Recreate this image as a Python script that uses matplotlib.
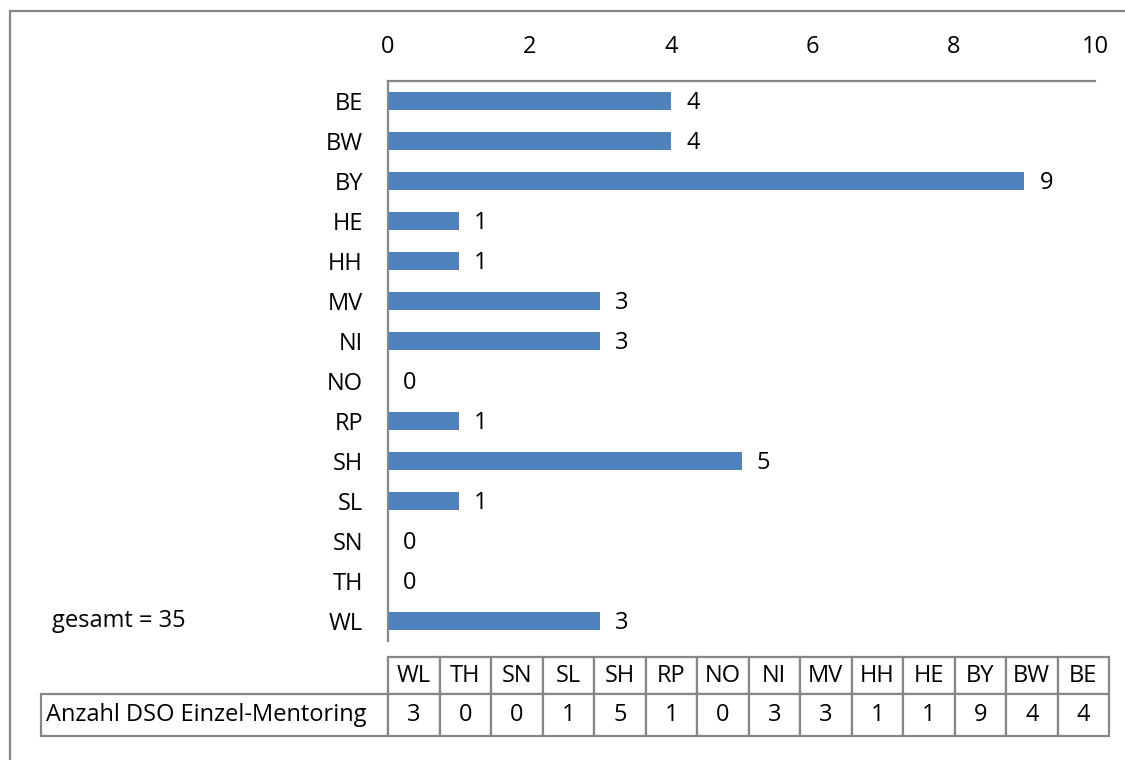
import matplotlib.pyplot as plt
from matplotlib.patches import Rectangle
from matplotlib.transforms import blended_transform_factory

plt.rcParams['font.family'] = ['Open Sans', 'DejaVu Sans']

# data
states = ['BE', 'BW', 'BY', 'HE', 'HH', 'MV', 'NI', 'NO', 'RP', 'SH', 'SL', 'SN', 'TH', 'WL']
counts = [4, 4, 9, 1, 1, 3, 3, 0, 1, 5, 1, 0, 0, 3]
row_label = 'Anzahl DSO Einzel-Mentoring'
total_text = 'gesamt = 35'

bar_color = '#4F81BD'
grey = '#868686'
fs = 17

fig = plt.figure(figsize=(11.25, 7.6), dpi=100)
W, H = 1125, 760
AW, AH = 707, 560  # axes size in pixels

# axes placement in pixels: x 388..1095, y 81..641
ax = fig.add_axes([388 / W, 1 - 641 / H, AW / W, AH / H])

ypos = list(range(len(states)))
ax.barh(ypos, counts, height=0.44, color=bar_color)
ax.set_xlim(0, 10)
ax.set_ylim(len(states) - 0.5, -0.5)
ax.set_yticks(ypos)
ax.set_yticklabels(states)
ax.set_xticks(range(0, 11, 2))

ax.xaxis.tick_top()
ax.tick_params(axis='x', length=0, pad=16, labelsize=fs)
ax.tick_params(axis='y', length=0, pad=18, labelsize=fs)
for s in ['right', 'bottom']:
    ax.spines[s].set_visible(False)
for s in ['top', 'left']:
    ax.spines[s].set_color(grey)
    ax.spines[s].set_linewidth(1.6)

for y, v in zip(ypos, counts):
    ax.annotate(str(v), (v, y), xytext=(11, -1.5), textcoords='offset points',
                ha='left', va='center', fontsize=fs)

tr = blended_transform_factory(ax.transAxes, ax.transData)
ax.text((52 - 388) / AW, ypos[-1], total_text, transform=tr,
        ha='left', va='center', fontsize=fs)

# data table underneath: label column first, then states in reverse order
col_labels = [''] + states[::-1]
cell_vals = [[row_label] + [str(v) for v in counts[::-1]]]
col_w = 51.5 / AW
lab_w = 347 / AW
hdr_h = 37 / AH
row_h = 42 / AH
top = (641 - 657) / AH
left = (41 - 388) / AW
tbl = ax.table(cellText=cell_vals, colLabels=col_labels,
               colWidths=[lab_w] + [col_w] * len(states), cellLoc='center',
               bbox=[left, top - hdr_h - row_h, lab_w + col_w * len(states),
                     hdr_h + row_h])
tbl.auto_set_font_size(False)
tbl.set_fontsize(fs)
for (r, c), cell in tbl.get_celld().items():
    cell.set_edgecolor(grey)
    cell.set_linewidth(1.6)
    cell.set_height(hdr_h if r == 0 else row_h)
    cell.PAD = 0.015
tbl[0, 0].visible_edges = ''
tbl[1, 0].get_text().set_horizontalalignment('left')

# outer chart border
fig.patches.append(Rectangle((10 / W, -0.1), 1.2, 1 - 11 / H + 0.1,
                             transform=fig.transFigure, fill=False,
                             edgecolor=grey, linewidth=1.6))

fig.savefig('out.png', dpi=100)
